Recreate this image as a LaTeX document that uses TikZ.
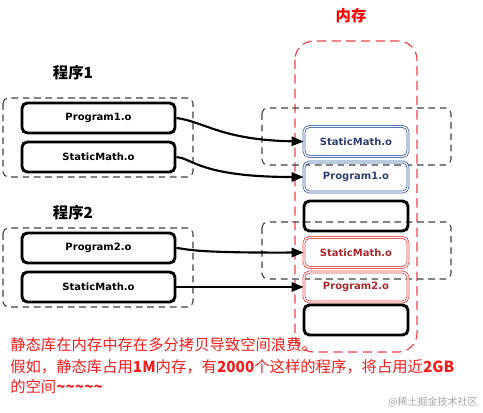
\documentclass[tikz,border=0pt]{standalone}
\usepackage{fontspec}
\setmainfont{DejaVu Sans}
\newfontfamily\cjk{Noto Sans CJK SC}
\newfontfamily\lab{DejaVu Sans}
\usetikzlibrary{arrows.meta}
\definecolor{memred}{HTML}{E8454A}
\definecolor{boxblue}{HTML}{3F63A8}
\definecolor{txtblue}{HTML}{2B3F6E}
\definecolor{boxred}{HTML}{E24B4B}
\definecolor{txtred}{HTML}{A82A2A}
\definecolor{warn}{HTML}{F21D1D}
\begin{document}
\begin{tikzpicture}[x=0.75pt,y=-0.75pt,
  objbox/.style={draw=black, line width=2.2pt, rounded corners=4pt,
    minimum width=153*0.75pt, minimum height=30*0.75pt, inner sep=0pt,
    font=\lab\bfseries\fontsize{7.5}{9}\selectfont},
  membox/.style={draw=black, line width=2.2pt, rounded corners=4pt,
    minimum width=104*0.75pt, minimum height=30*0.75pt, inner sep=0pt,
    font=\lab\bfseries\fontsize{7.5}{9}\selectfont},
  blueobj/.style={membox, draw=boxblue, line width=0.6pt, double=white, double distance=0.9pt, text=txtblue},
  redobj/.style={membox, draw=boxred, line width=0.6pt, double=white, double distance=0.9pt, text=txtred},
  grp/.style={draw=black!75, dash pattern=on 5pt off 3.5pt, line width=0.8pt, rounded corners=4pt},
  memgrp/.style={draw=memred, dash pattern=on 7pt off 4pt, line width=0.9pt, rounded corners=14pt},
  link/.style={line width=1.6pt, -{Triangle[length=9pt,width=7pt]}},
  title/.style={font=\cjk\bfseries\fontsize{11.5}{13}\selectfont, inner sep=0pt},
  note/.style={anchor=base west, inner sep=0pt, text=warn, font=\cjk\fontsize{11.5}{13}\selectfont},
]
\useasboundingbox (0,0) rectangle (483,413);

% memory container
\draw[memgrp] (295,41) rectangle (417,352);
\node[title, text=red] (memt) at (351,16) {内存};

% group frames
\draw[grp] (3,98) rectangle (193,177);
\draw[grp] (3,228) rectangle (193,307);
\draw[grp] (262,108) rectangle (451,165);
\draw[grp] (262,222) rectangle (451,279);

% titles
\node[title] (t1) at (73,73) {程序1};
\node[title] (t2) at (73,213) {程序2};

% program objects
\node[objbox] (p1) at (98.5,118) {Program1.o};
\node[objbox] (s1) at (98.5,157) {StaticMath.o};
\node[objbox] (p2) at (98.5,248) {Program2.o};
\node[objbox] (s2) at (98.5,287) {StaticMath.o};

% memory blocks
\node[blueobj] (ms1) at (356,141.5) {StaticMath.o};
\node[blueobj] (mp1) at (356,177) {Program1.o};
\node[membox] (me1) at (356,216) {};
\node[redobj] (ms2) at (356,252.5) {StaticMath.o};
\node[redobj] (mp2) at (356,287) {Program2.o};
\node[membox] (me2) at (356,320) {};

% connectors
\draw[link] (p1.east) .. controls (205,122) and (222,140) .. (ms1.west);
\draw[link] (s1.east) .. controls (192,158) and (200,177) .. (mp1.west);
\draw[link] (p2.east) .. controls (188,249) and (190,253) .. (ms2.west);
\draw[link] (s2.east) -- (mp2.west);

% note text
\node[note] (n1) at (10,351) {静态库在内存中存在多分拷贝导致空间浪费。};
\node[note] (n2) at (10,373) {假如，静态库占用\textbf{1M}内存，有\textbf{2000}个这样的程序，将占用近\textbf{2GB}};
\node[note] (n3) at (10,393) {的空间\textbf{\textasciitilde\textasciitilde\textasciitilde\textasciitilde\textasciitilde}};

% watermark
\node[anchor=base east, inner sep=0pt, text=black!35, font=\cjk\fontsize{7.5}{9}\selectfont] (wm) at (478,406) {@稀土掘金技术社区};
\end{tikzpicture}
\end{document}
